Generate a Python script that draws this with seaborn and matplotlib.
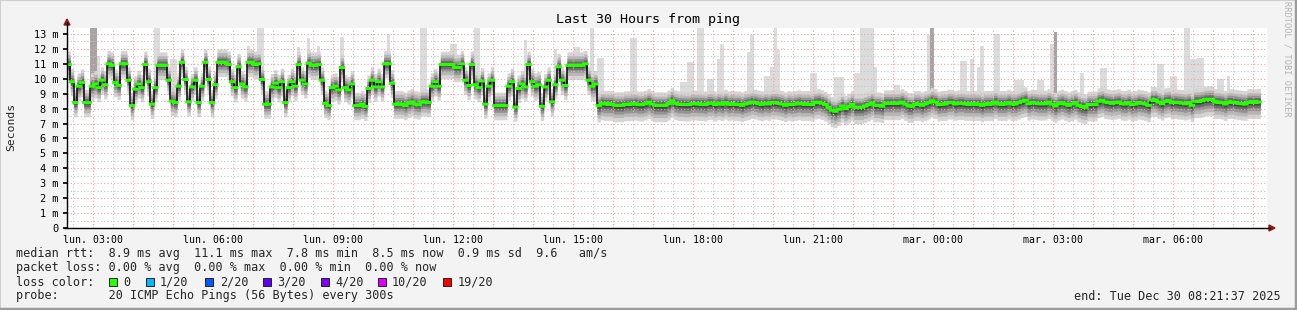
import numpy as np
import matplotlib
matplotlib.use("Agg")
import matplotlib.pyplot as plt
import seaborn as sns
from matplotlib.lines import Line2D
from matplotlib.patches import Rectangle, Polygon

# ---------------- data ----------------
title = "Last 30 Hours from ping"
y_label = "Seconds"
watermark = "RRDTOOL / TOBI OETIKER"
x_tick_labels = ["lun. 03:00", "lun. 06:00", "lun. 09:00", "lun. 12:00", "lun. 15:00",
                 "lun. 18:00", "lun. 21:00", "mar. 00:00", "mar. 03:00", "mar. 06:00"]
y_tick_values = list(range(0, 14))
y_tick_labels = ["0", "1 m", "2 m", "3 m", "4 m", "5 m", "6 m", "7 m", "8 m", "9 m",
                 "10 m", "11 m", "12 m", "13 m"]

# median RTT (ms), one value per 5-minute step, Mon 02:21 -> Tue 08:21
median_a = [10.95, 9.8, 8.4, 9.5, 9.75, 8.4, 8.4, 9.5, 9.65, 9.4, 9.9, 9.6, 11.0, 10.9,
            9.75, 9.55, 11.0, 11.0, 9.9, 8.2, 9.3, 9.65, 9.4, 10.95, 9.8, 8.3, 9.4, 10.9,
            10.9, 10.9, 9.9, 8.5, 8.4, 9.5, 11.1, 9.95, 8.45, 9.45, 9.9, 8.4, 9.5, 11.1,
            9.95, 8.4, 9.6, 11.1, 11.1, 11.1, 10.95, 9.8, 9.4, 10.8]
median_b = [9.65, 9.45, 11.1, 11.1, 10.95, 11.0, 9.95, 8.3, 8.3, 9.45, 9.7, 9.4, 9.8, 8.4,
            9.4, 9.8, 9.5, 10.95, 9.9, 9.65, 11.05, 10.9, 10.9, 10.95, 9.9, 8.35, 8.2, 9.4,
            9.5, 9.25, 10.75, 9.4, 9.25, 9.65, 8.2, 8.2, 8.3, 8.15, 9.35, 9.9, 9.45, 9.8,
            9.45, 11.0, 11.0, 9.7, 8.3, 8.3, 8.3, 8.2, 8.35, 8.45, 8.3]
median_c = [8.25, 8.45, 8.45, 8.4, 9.5, 9.8, 9.5, 10.95, 10.95, 10.95, 10.95, 10.75, 10.75,
            11.0, 9.9, 9.55, 10.95, 9.6, 9.4, 9.85, 8.3, 9.5, 9.9, 8.2, 8.2, 8.2, 8.2, 9.5,
            9.8, 8.1, 9.35, 9.65, 9.45, 10.95, 9.8, 9.5, 9.6, 8.15, 9.45, 9.9, 8.45, 9.6,
            10.8, 9.9, 9.55, 10.9, 10.9, 10.9, 10.9, 10.9, 11.0, 9.9, 9.5, 9.65, 8.2, 8.35]
median_d = [8.31, 8.31, 8.31, 8.22, 8.22, 8.22, 8.29, 8.29, 8.31, 8.33, 8.27, 8.27, 8.33,
            8.44, 8.31, 8.22, 8.22, 8.22, 8.22, 8.33, 8.53, 8.36, 8.29, 8.29, 8.27, 8.27,
            8.33, 8.33, 8.31, 8.31, 8.27, 8.36, 8.36, 8.27, 8.36, 8.29, 8.4, 8.29, 8.33,
            8.29, 8.29, 8.22, 8.31, 8.36, 8.44, 8.4, 8.33, 8.29, 8.36, 8.31, 8.4, 8.4, 8.36,
            8.31, 8.22, 8.31, 8.27, 8.31, 8.36, 8.31, 8.31, 8.31, 8.27, 8.4]
median_e = [8.44, 8.36, 8.27, 8.09, 7.89, 7.82, 7.96, 8.18, 8.0, 8.13, 8.29, 8.09, 8.09,
            8.09, 8.18, 8.27, 8.38, 8.22, 8.22, 8.16, 8.36, 8.36, 8.36, 8.36, 8.36, 8.44,
            8.31, 8.18, 8.16, 8.31, 8.31, 8.22, 8.31, 8.4, 8.53, 8.44, 8.27, 8.31, 8.31,
            8.4, 8.4, 8.31, 8.36, 8.36, 8.31, 8.31, 8.31, 8.31, 8.31, 8.22, 8.31, 8.31, 8.31,
            8.44, 8.31, 8.31, 8.31, 8.4, 8.31, 8.31, 8.4, 8.49, 8.56, 8.33, 8.4, 8.38]
median_f = [8.33, 8.33, 8.33, 8.44, 8.31, 8.18, 8.33, 8.4, 8.31, 8.22, 8.31, 8.4, 8.22,
            8.13, 8.09, 8.27, 8.27, 8.27, 8.49, 8.56, 8.44, 8.4, 8.36, 8.4, 8.44, 8.33,
            8.31, 8.4, 8.27, 8.31, 8.4, 8.36, 8.31, 8.22, 8.58, 8.58, 8.44, 8.33, 8.49,
            8.53, 8.4, 8.44, 8.4, 8.38, 8.33, 8.4, 8.22, 8.49, 8.49, 8.53, 8.6, 8.62, 8.62,
            8.44, 8.44, 8.4, 8.31, 8.44, 8.44, 8.4, 8.36, 8.33, 8.31, 8.44, 8.44, 8.44, 8.44]

# smoke (spread of the 20 pings around the median, ms), inner -> outer
smoke_lo_left = [-0.12, -0.28, -0.45, -0.68, -0.95]
smoke_hi_left = [0.12, 0.28, 0.45, 0.65, 0.9]
smoke_lo_right = [-0.2, -0.38, -0.58, -0.82, -1.1]
smoke_hi_right = [0.15, 0.3, 0.45, 0.62, 0.9]
regime_switch = 158

# isolated slow pings (max ping spikes): start sample, length, top (ms)
spike_start = [7, 9, 26, 28, 31, 54, 57, 69, 72, 75, 82, 96, 106, 115, 122, 137, 146, 152,
               157, 159, 169, 184, 186, 189, 192, 195, 196, 204, 205, 209, 211, 212, 213,
               223, 230, 236, 238, 242, 248, 258, 259, 268, 271, 273, 274, 278, 284, 291,
               295, 296, 304, 310, 327, 331, 335, 337, 339, 345, 348]
spike_len = [2, 1, 2, 2, 2, 1, 2, 1, 1, 1, 1, 1, 2, 2, 2, 1, 1, 2,
             1, 2, 2, 2, 2, 2, 2, 2, 1, 1, 1, 2, 1, 1, 1,
             2, 3, 2, 4, 1, 2, 1, 1, 2, 1, 1, 1, 2, 3, 2,
             1, 1, 1, 2, 2, 2, 2, 2, 2, 2, 1]
spike_top = [13.5, 11.5, 13.5, 11.7, 11.3, 12.2, 13.5, 12.1, 12.7, 12.2, 12.8, 13.0, 13.5,
             12.3, 13.5, 12.6, 12.0, 12.1, 13.5, 11.4, 12.7, 9.8, 11.1, 13.5, 10.0, 11.3,
             12.3, 11.8, 12.9, 10.2, 10.8, 13.5, 11.9, 10.4, 10.1, 10.4, 13.5, 10.8, 9.55,
             12.9, 13.5, 11.2, 11.3, 10.8, 12.2, 13.0, 9.9, 9.9, 12.3, 13.1, 10.4, 10.7,
             11.0, 10.2, 13.5, 11.3, 11.4, 10.0, 10.2]
spike_mid = [7, 259, 296]   # spikes made of several slow pings (darker)

# legend
loss_labels = ["0", "1/20", "2/20", "3/20", "4/20", "10/20", "19/20"]
loss_colors = ["#26ff00", "#00b8ff", "#0059ff", "#5e00ff", "#7e00ff", "#dd00ff", "#ff0000"]
rtt_line = "median rtt:  8.9 ms avg  11.1 ms max  7.8 ms min  8.5 ms now  0.9 ms sd  9.6   am/s"
loss_line = "packet loss: 0.00 % avg  0.00 % max  0.00 % min  0.00 % now"
probe_line = "probe:       20 ICMP Echo Pings (56 Bytes) every 300s"
end_line = "end: Tue Dec 30 08:21:37 2025"

# ---------------- drawing ----------------
W, H = 1297, 310
sns.set_theme(style="white")
plt.rcParams["font.family"] = ["DejaVu Sans Mono", "DejaVu Sans"]

fig = plt.figure(figsize=(W / 100, H / 100), dpi=100)
fig.patch.set_facecolor("#f3f3f3")

def fx(x):
    return x / W

def fy(y):
    return 1 - y / H

L, R, T, B = 67, 1267, 28, 228
ax = fig.add_axes([fx(L), fy(B), (R - L) / W, (B - T) / H])
ax.set_facecolor("white")

step_h = 5 / 60
median = np.array(median_a + median_b + median_c + median_d + median_e + median_f)
N = len(median)
x_edges = np.arange(N + 1) * step_h
med_ext = np.append(median, median[-1])

smoke_colors = ["#464646", "#6c6c6c", "#939393", "#b7b7b7", "#d5d5d5"]  # inner -> outer

# spikes (light grey single slow pings)
for s, n, top in zip(spike_start, spike_len, spike_top):
    base = median[s:s + n].min()
    col = "#a4a4a4" if s in spike_mid else "#dcdcdc"
    ax.bar(x=s * step_h, height=top - base, bottom=base, width=n * step_h,
           align="edge", color=col, linewidth=0, zorder=1)

# smoke bands (outer first so inner ones lie on top)
idx = np.arange(N + 1)
nb = len(smoke_colors)
for k in range(nb - 1, -1, -1):
    lo = np.where(idx < regime_switch, smoke_lo_left[k], smoke_lo_right[k])
    hi = np.where(idx < regime_switch, smoke_hi_left[k], smoke_hi_right[k])
    ax.fill_between(x_edges, med_ext + lo, med_ext + hi, step="post", color=smoke_colors[k],
                    linewidth=0, zorder=1.2)

# median line: black connectors + green (0 % loss) segments
sns.lineplot(x=x_edges, y=med_ext, drawstyle="steps-post", color="black",
             linewidth=1.1, ax=ax, zorder=3)
segs_x, segs_y = [], []
for i in range(N):
    segs_x += [x_edges[i], x_edges[i + 1], np.nan]
    segs_y += [median[i], median[i], np.nan]
ax.plot(segs_x, segs_y, color=loss_colors[0], linewidth=2.2, solid_capstyle="projecting",
        zorder=4)

# axes, grid
first_hour = (38 * 60 + 23) / 3600.0
major_x = first_hour + np.arange(0, 30)
major_x = major_x[major_x <= 30]
minor_x = first_hour - 0.5 + np.arange(0, 31)
minor_x = minor_x[(minor_x >= 0) & (minor_x <= 30)]
ax.set_xlim(0, 30)
ax.set_ylim(0, 13.4)
ax.set_xticks(major_x)
lbls = []
for i in range(len(major_x)):
    lbls.append(x_tick_labels[i // 3] if i % 3 == 0 and i // 3 < len(x_tick_labels) else "")
ax.set_xticklabels(lbls, fontsize=7.1)
ax.set_xticks(minor_x, minor=True)
ax.set_yticks(y_tick_values)
ax.set_yticklabels(y_tick_labels, fontsize=7.4)
ax.set_yticks(np.arange(0.5, 13.4, 0.5), minor=True)
ax.set_axisbelow(False)
ax.grid(which="major", color="#eba3a3", linestyle=(0, (1, 2)), linewidth=0.8, zorder=2.5)
ax.grid(which="minor", color="#c4c4c4", linestyle=(0, (1, 2)), linewidth=0.8, zorder=2.5)
ax.tick_params(axis="x", which="major", direction="inout", length=4, color="#e08080",
               pad=3, labelcolor="black")
ax.tick_params(axis="x", which="minor", direction="inout", length=3, color="#bbbbbb")
ax.tick_params(axis="y", which="major", direction="out", length=3, color="black", pad=3,
               labelcolor="black", left=True)
ax.tick_params(axis="y", which="minor", length=0)
ax.set_xlabel("")
ax.set_ylabel("")
for sp in ax.spines.values():
    sp.set_visible(False)

# axis lines with arrows
fig.add_artist(Line2D([fx(L), fx(L)], [fy(B), fy(22)], color="black", linewidth=1.0,
                      transform=fig.transFigure))
fig.add_artist(Line2D([fx(L - 3), fx(1270)], [fy(B), fy(B)], color="black", linewidth=1.0,
                      transform=fig.transFigure))
fig.add_artist(Polygon([[fx(L - 3), fy(25)], [fx(L + 3), fy(25)], [fx(L), fy(19)]],
                       closed=True, color="#8b1a1a", transform=fig.transFigure))
fig.add_artist(Polygon([[fx(1269), fy(B - 3)], [fx(1269), fy(B + 3)], [fx(1275), fy(B)]],
                       closed=True, color="#8b1a1a", transform=fig.transFigure))

# texts
fig.text(fx(648), fy(19), title, ha="center", va="center", fontsize=9.6, color="black")
fig.text(fx(11), fy(127), y_label, ha="center", va="center", rotation=90, fontsize=8.2)
fig.text(fx(1287), fy(59), watermark, ha="center", va="center", rotation=270,
         fontsize=6.2, color="#b4b4b4")

fs = 8.5
fig.text(fx(16), fy(254), rtt_line, ha="left", va="center", fontsize=fs)
fig.text(fx(16), fy(268), loss_line, ha="left", va="center", fontsize=fs)
fig.text(fx(16), fy(282), "loss color:", ha="left", va="center", fontsize=fs)
fig.text(fx(16), fy(296), probe_line, ha="left", va="center", fontsize=fs)
fig.text(fx(1281), fy(296), end_line, ha="right", va="center", fontsize=fs)

sq_x = [109, 146, 205, 263, 321, 378, 443]
lab_x = [123, 160, 220, 277, 335, 392, 458]
for sx, lx, lab, col in zip(sq_x, lab_x, loss_labels, loss_colors):
    fig.add_artist(Rectangle((fx(sx), fy(286)), 8 / W, 8 / H, facecolor=col,
                             edgecolor="#222222", linewidth=0.7, transform=fig.transFigure))
    fig.text(fx(lx), fy(282), lab, ha="left", va="center", fontsize=fs)

# frame of the canvas
fig.add_artist(Rectangle((0, 0), 1, 1, fill=False, edgecolor="#cfcfcf", linewidth=1.5,
                         transform=fig.transFigure))
fig.add_artist(Line2D([0, 1], [fy(309), fy(309)], color="#9c9c9c", linewidth=2.5,
                      transform=fig.transFigure))
fig.add_artist(Line2D([fx(1296), fx(1296)], [0, 1], color="#9c9c9c", linewidth=2.5,
                      transform=fig.transFigure))

fig.savefig("out.png", dpi=100, facecolor=fig.get_facecolor())
